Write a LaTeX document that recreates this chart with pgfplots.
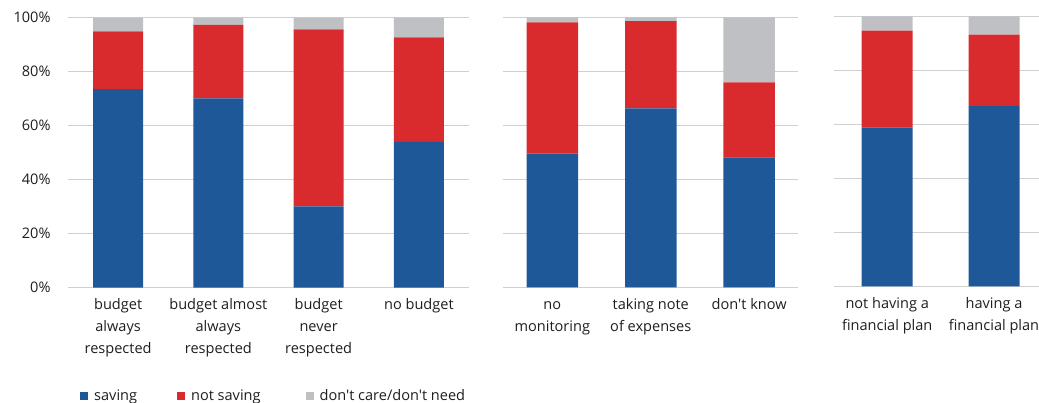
\documentclass[border=0pt]{standalone}
\usepackage{fontspec}
\setmainfont{Open Sans}[Ligatures=TeXOff]
\usepackage{pgfplots}
\pgfplotsset{compat=1.18}
\definecolor{cblue}{RGB}{31,88,153}
\definecolor{cred}{RGB}{217,43,46}
\definecolor{cgray}{RGB}{191,192,196}
\definecolor{cgrid}{RGB}{208,208,208}
\definecolor{ctext}{RGB}{30,30,30}
\pgfplotsset{panel/.style={
  scale only axis, height=270bp, ybar stacked,
  ymin=0, ymax=100, ytick={0,20,...,100},
  ymajorgrids, grid style={cgrid, line width=1.3bp},
  axis line style={draw=none}, major tick length=0pt,
  xticklabel style={align=center, font=\fontsize{14.6}{21.7}\selectfont, text=ctext, yshift=-3.5bp},
  yticklabel style={font=\fontsize{14.6}{16}\selectfont, text=ctext, xshift=-14bp},
  clip=false,
}}
\begin{document}
\begin{tikzpicture}
\path[use as bounding box, clip] (0,0) rectangle (1039bp,403bp);
% Panel 1
\begin{axis}[panel, at={(68bp,115.3bp)}, anchor=south west, width=401bp, bar width=50bp,
  xmin=-0.5, xmax=3.5, xtick={0,1,2,3},
  xticklabels={\strut budget\\always\\respected, \strut budget almost\\always\\respected, \strut budget\\never\\respected, \strut no budget},
  yticklabels={0\%,20\%,40\%,60\%,80\%,100\%},
  legend style={at={(0.03,-0.394)}, anchor=west, xshift=-3bp, yshift=-1.5bp, draw=none, fill=none, legend columns=3,
    font=\fontsize{14.6}{16}\selectfont, text=ctext,
    /tikz/every odd column/.append style={column sep=4bp},
    /tikz/column 2/.style={column sep=38bp},
    /tikz/column 4/.style={column sep=43bp}},
  legend image code/.code={\fill[#1] (0bp,-4bp) rectangle (8bp,4bp);},
]
\addplot[fill=cblue, draw=none] coordinates {(0,73.5) (1,70.1) (2,30.1) (3,54.0)};
\addplot[fill=cred, draw=none] coordinates {(0,21.4) (1,27.2) (2,65.6) (3,38.7)};
\addplot[fill=cgray, draw=none] coordinates {(0,5.1) (1,2.7) (2,4.3) (3,7.3)};
\legend{saving, not saving, don't care/don't need}
\end{axis}
% Panel 2
\begin{axis}[panel, at={(503.1bp,115.7bp)}, anchor=south west, width=295.3bp, bar width=51.5bp,
  xmin=-0.5, xmax=2.5, xtick={0,1,2},
  xticklabels={\strut no\\monitoring, \strut taking note\\of expenses, \strut don't know},
  yticklabels={},
]
\addplot[fill=cblue, draw=none] coordinates {(0,49.5) (1,66.3) (2,48.1)};
\addplot[fill=cred, draw=none] coordinates {(0,48.6) (1,32.3) (2,27.8)};
\addplot[fill=cgray, draw=none] coordinates {(0,1.9) (1,1.4) (2,24.1)};
\end{axis}
% Panel 3
\begin{axis}[panel, at={(833.8bp,116.7bp)}, anchor=south west, width=213.6bp, bar width=51bp,
  xmin=-0.5, xmax=1.5, xtick={0,1},
  xticklabels={\strut not having a\\financial plan, \strut having a\\financial plan},
  yticklabels={},
]
\addplot[fill=cblue, draw=none] coordinates {(0,58.9) (1,66.7)};
\addplot[fill=cred, draw=none] coordinates {(0,35.8) (1,26.5)};
\addplot[fill=cgray, draw=none] coordinates {(0,5.3) (1,6.8)};
\end{axis}
\end{tikzpicture}
\end{document}
